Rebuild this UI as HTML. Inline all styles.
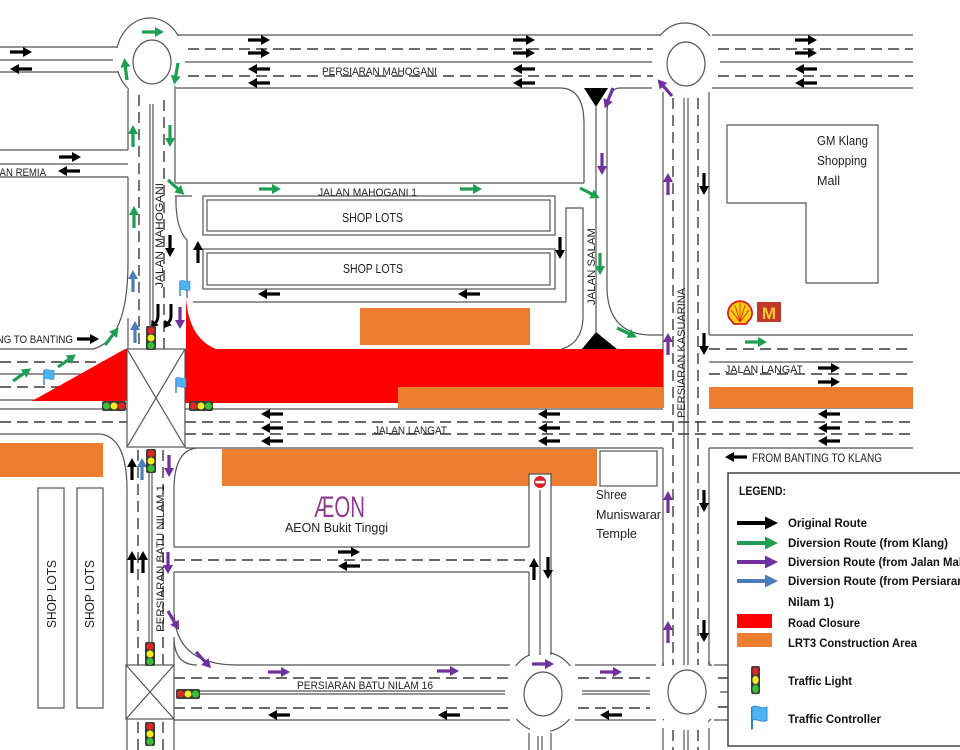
<!DOCTYPE html>
<html><head><meta charset="utf-8"><style>
html,body{margin:0;padding:0;background:#fff;}
svg{display:block;}
text{font-family:"Liberation Sans",sans-serif;}
</style></head><body>
<svg width="960" height="750" viewBox="0 0 960 750" xmlns="http://www.w3.org/2000/svg" xmlns:xlink="http://www.w3.org/1999/xlink">
<defs>
<path id="a" d="M0,-1.6H13V-5L22,0L13,5V1.6H0Z"/>
<path id="A" d="M0,-2H28V-6.5L41,0L28,6.5V2H0Z"/>
<g id="lv"><rect x="0" y="0" width="10" height="24" rx="2" fill="#3c3c3c"/><circle cx="5" cy="4.5" r="3.5" fill="#e52420"/><circle cx="5" cy="12" r="3.5" fill="#f4ec1c"/><circle cx="5" cy="19.5" r="3.5" fill="#34c432"/></g>
<g id="lhr"><rect x="0" y="0" width="24" height="10" rx="2" fill="#3c3c3c"/><circle cx="4.5" cy="5" r="3.5" fill="#e52420"/><circle cx="12" cy="5" r="3.5" fill="#f4ec1c"/><circle cx="19.5" cy="5" r="3.5" fill="#34c432"/></g>
<g id="lhg"><rect x="0" y="0" width="24" height="10" rx="2" fill="#3c3c3c"/><circle cx="4.5" cy="5" r="3.5" fill="#34c432"/><circle cx="12" cy="5" r="3.5" fill="#f4ec1c"/><circle cx="19.5" cy="5" r="3.5" fill="#e52420"/></g>
<g id="fl"><path d="M0,0V15" stroke="#2e86c9" stroke-width="1.4" fill="none"/><path d="M0,0C3,-2 6,2 10,0V9C6,11 3,7 0,9Z" fill="#4db3f2" stroke="#2e86c9" stroke-width="0.6"/></g>
</defs>

<rect width="960" height="750" fill="#fff"/>

<!-- roundabout outers -->
<g fill="#fff" stroke="#555" stroke-width="1.2">
<ellipse cx="150" cy="58" rx="34" ry="40"/>
<ellipse cx="685" cy="60" rx="33" ry="37"/>
<ellipse cx="543" cy="692" rx="36" ry="40"/>
<ellipse cx="687" cy="692" rx="34" ry="38"/>
</g>
<g fill="#fff">
<rect x="110" y="48" width="10" height="23"/>
<rect x="173.5" y="36" width="18" height="51"/>
<rect x="129" y="86" width="45" height="14"/>
<rect x="646" y="36" width="19" height="51"/>
<rect x="706" y="36" width="19" height="51"/>
<rect x="664" y="87" width="44" height="14"/>
<rect x="505" y="666" width="12" height="53"/>
<rect x="569" y="666" width="12" height="53"/>
<rect x="530" y="648" width="20" height="10"/>
<rect x="530" y="727" width="20" height="12"/>
<rect x="651" y="666" width="14" height="53"/>
<rect x="709" y="666" width="14" height="53"/>
<rect x="664" y="650" width="44" height="16"/>
<rect x="664" y="718" width="44" height="20"/>
</g>
<g fill="none" stroke="#555" stroke-width="1.2">
<ellipse cx="152" cy="62" rx="19" ry="22"/>
<ellipse cx="686" cy="64" rx="19" ry="22"/>
<ellipse cx="543" cy="694" rx="19" ry="22"/>
<ellipse cx="687" cy="692" rx="19" ry="22"/>
</g>

<!-- solid road lines -->
<g fill="none" stroke="#555" stroke-width="1.2">
<path d="M0,47H117M0,60H113M0,72H118"/>
<path d="M178,35H660M185,62H652M176,88H560Q584,88 584,124V183"/>
<path d="M620,88Q607,88 607,115V290Q609,334 650,335H663M620,88H652"/>
<path d="M596,107V332"/>
<path d="M566,302V208H583V318Q582,343 562,349"/>
<path d="M712,35H913M720,62H913M712,88H913"/>
<path d="M128,90V150M128,177V262Q128,340 93,349H0M128,318V349"/>
<path d="M150,104V349M153,104V349M175,86V183M175,183H584"/>
<path d="M175,196H192M176,196V205Q177,230 187,240V298"/>
<path d="M193,302H566"/>
<path d="M0,150H128M0,164H128M0,177H128"/>
<path d="M0,374H127M0,400H127M0,409H127M0,434H100Q127,437 127,490V665"/>
<path d="M185,409H663M185,448H663"/>
<path d="M663,92V408M663,448V666M684,98V665M688,98V665M709,92V335M709,448V666"/>
<path d="M709,335H913M709,362H913M709,408H913M709,448H913"/>
<path d="M149,458V643M152,458V643M197,448Q174,450 174,490V547M174,572V610Q174,665 237,665H510M174,637V665M174,637Q174,665 197,665"/>
<path d="M127,719V750M174,719V750"/>
<path d="M174,547H529M174,572H529"/>
<path d="M529,474V547M529,572V656M540,490V655M551,474V655"/>
<path d="M174,720H510M180,691H505M180,694H505"/>
<path d="M575,665H656M575,720H656M582,691H650M582,694H650"/>
<path d="M529,733V750M538,736V750M542,736V750M551,733V750"/>
<path d="M663,728V750M684,730V750M688,730V750M709,728V750"/>
<path d="M714,665H728M714,720H728M720,692H728"/>
</g>
<!-- dashed road lines -->
<g fill="none" stroke="#3a3a3a" stroke-width="1.4" stroke-dasharray="11 6">
<path d="M188,49H653M188,76H653M718,49H913M718,76H913"/>
<path d="M139,95V349M164,100V349"/>
<path d="M0,362H127M0,387H127M0,422H127"/>
<path d="M185,422H913M185,434H913"/>
<path d="M709,349H913M709,374H913"/>
<path d="M673,98V665M698,98V665M673,730V750M698,730V750"/>
<path d="M138,450V665M163,450V665M138,722V750M163,722V750"/>
<path d="M174,560H529"/>
<path d="M174,678H508M174,708H508M578,678H650M578,708H650"/>
<path d="M718,678H728M718,707H728"/>
</g>

<!-- construction / closure -->
<rect x="360" y="308" width="170" height="37" fill="#ed7d31"/>
<g fill="#ff0000">
<path d="M32,401L125,349H127V401Z"/>
<path d="M186,298C188,325 198,342 216,349H186Z"/>
<rect x="185" y="349" width="478" height="54"/>
</g>
<g fill="#ed7d31">
<rect x="398" y="387" width="265" height="21"/>
<rect x="709" y="387" width="204" height="21"/>
<rect x="0" y="443" width="103" height="34"/>
<rect x="222" y="449" width="375" height="37"/>
</g>
<path d="M529,487V474H551V487" fill="#fff" stroke="#555" stroke-width="1.2"/>
<path d="M540,478V487" stroke="#555" stroke-width="1.2"/>

<!-- triangles -->
<path d="M584,88H608L596,107Z" fill="#000"/>
<path d="M582,349H617L596,332Z" fill="#000"/>

<!-- intersection boxes -->
<g fill="#fff" stroke="#555" stroke-width="1.2">
<rect x="127" y="349" width="58" height="98"/>
<path d="M127,349L185,447M185,349L127,447" fill="none"/>
<rect x="126" y="665" width="48" height="54"/>
<path d="M126,665L174,719M174,665L126,719" fill="none"/>
</g>

<!-- buildings -->
<g fill="none" stroke="#555" stroke-width="1.2">
<rect x="203" y="196" width="352" height="39"/>
<rect x="207" y="200" width="343" height="31"/>
<rect x="203" y="249" width="352" height="40"/>
<rect x="207" y="253" width="343" height="32"/>
<rect x="38" y="488" width="26" height="220"/>
<rect x="77" y="488" width="26" height="220"/>
<path d="M727,125H878V283H806V203H727Z"/>
<rect x="600" y="451" width="57" height="35" fill="#fff"/>
</g>

<!-- no entry sign -->
<circle cx="540" cy="482" r="6.5" fill="#d8232a" stroke="#fff" stroke-width="1"/>
<rect x="535.5" y="480.8" width="9" height="2.6" fill="#fff"/>

<!-- Shell & McD -->
<path d="M729,318A12,12 0 1 1 751,318L746,324H734Z" fill="#fcd10a" stroke="#dd1d21" stroke-width="1.8"/>
<path d="M740,322L731,310M740,322L735,305M740,322L740,303M740,322L745,305M740,322L749,310" stroke="#dd1d21" stroke-width="0.8"/>
<rect x="757" y="302" width="24" height="20" fill="#c0392b"/>
<text x="769" y="319" font-size="17" font-weight="bold" fill="#ffc72c" text-anchor="middle">M</text>

<!-- labels -->
<g font-size="11" fill="#222">
<text x="322" y="75" textLength="115" lengthAdjust="spacingAndGlyphs">PERSIARAN MAHOGANI</text>
<text x="318" y="196" textLength="99" lengthAdjust="spacingAndGlyphs">JALAN MAHOGANI 1</text>
<text x="46" y="176" text-anchor="end" textLength="63" lengthAdjust="spacingAndGlyphs">JALAN REMIA</text>
<text x="73" y="343" text-anchor="end" textLength="126" lengthAdjust="spacingAndGlyphs">FROM KLANG TO BANTING</text>
<text x="725" y="373" textLength="78" lengthAdjust="spacingAndGlyphs">JALAN LANGAT</text>
<text x="374" y="434" textLength="73" lengthAdjust="spacingAndGlyphs">JALAN LANGAT</text>
<text transform="translate(163,288) rotate(-90)" textLength="105" lengthAdjust="spacingAndGlyphs">JALAN MAHOGANI</text>
<text transform="translate(595,305) rotate(-90)" textLength="77" lengthAdjust="spacingAndGlyphs">JALAN SALAM</text>
<text transform="translate(685,418) rotate(-90)" textLength="130" lengthAdjust="spacingAndGlyphs">PERSIARAN KASUARINA</text>
<text transform="translate(164,632) rotate(-90)" textLength="147" lengthAdjust="spacingAndGlyphs">PERSIARAN BATU NILAM 1</text>
<text x="297" y="689" textLength="136" lengthAdjust="spacingAndGlyphs">PERSIARAN BATU NILAM 16</text>
</g>
<text x="752" y="462" font-size="12" fill="#222" textLength="130" lengthAdjust="spacingAndGlyphs">FROM BANTING TO KLANG</text>
<g font-size="12.5" fill="#222">
<text x="342" y="222" textLength="61" lengthAdjust="spacingAndGlyphs">SHOP LOTS</text>
<text x="343" y="273" textLength="60" lengthAdjust="spacingAndGlyphs">SHOP LOTS</text>
<text transform="translate(56,628) rotate(-90)" textLength="68" lengthAdjust="spacingAndGlyphs">SHOP LOTS</text>
<text transform="translate(94,628) rotate(-90)" textLength="68" lengthAdjust="spacingAndGlyphs">SHOP LOTS</text>
</g>
<g font-size="13" fill="#222">
<text x="817" y="145" textLength="51" lengthAdjust="spacingAndGlyphs">GM Klang</text>
<text x="817" y="165" textLength="50" lengthAdjust="spacingAndGlyphs">Shopping</text>
<text x="817" y="185" textLength="23" lengthAdjust="spacingAndGlyphs">Mall</text>
<text x="596" y="499" textLength="31" lengthAdjust="spacingAndGlyphs">Shree</text>
<text x="596" y="519" textLength="65" lengthAdjust="spacingAndGlyphs">Muniswarar</text>
<text x="596" y="538" textLength="41" lengthAdjust="spacingAndGlyphs">Temple</text>
<text x="285" y="532" textLength="103" lengthAdjust="spacingAndGlyphs">AEON Bukit Tinggi</text>
</g>
<text x="314" y="517" font-size="30" fill="#8e3c91" textLength="51" lengthAdjust="spacingAndGlyphs">ÆON</text>

<!-- black arrows -->
<g fill="#000">
<use xlink:href="#a" transform="translate(10,52)"/>
<use xlink:href="#a" transform="translate(32,69) rotate(180)"/>
<use xlink:href="#a" transform="translate(59,157)"/>
<use xlink:href="#a" transform="translate(80,171) rotate(180)"/>
<use xlink:href="#a" transform="translate(248,40)"/>
<use xlink:href="#a" transform="translate(248,53)"/>
<use xlink:href="#a" transform="translate(270,69) rotate(180)"/>
<use xlink:href="#a" transform="translate(270,83) rotate(180)"/>
<use xlink:href="#a" transform="translate(513,40)"/>
<use xlink:href="#a" transform="translate(513,53)"/>
<use xlink:href="#a" transform="translate(535,69) rotate(180)"/>
<use xlink:href="#a" transform="translate(535,83) rotate(180)"/>
<use xlink:href="#a" transform="translate(795,40)"/>
<use xlink:href="#a" transform="translate(795,53)"/>
<use xlink:href="#a" transform="translate(817,69) rotate(180)"/>
<use xlink:href="#a" transform="translate(817,83) rotate(180)"/>
<use xlink:href="#a" transform="translate(170,235) rotate(90)"/>
<use xlink:href="#a" transform="translate(198,263) rotate(-90)"/>
<use xlink:href="#a" transform="translate(280,294) rotate(180)"/>
<use xlink:href="#a" transform="translate(480,294) rotate(180)"/>
<use xlink:href="#a" transform="translate(560,237) rotate(90)"/>
<use xlink:href="#a" transform="translate(704,173) rotate(90)"/>
<use xlink:href="#a" transform="translate(704,333) rotate(90)"/>
<use xlink:href="#a" transform="translate(704,490) rotate(90)"/>
<use xlink:href="#a" transform="translate(704,620) rotate(90)"/>
<use xlink:href="#a" transform="translate(818,368)"/>
<use xlink:href="#a" transform="translate(818,382)"/>
<use xlink:href="#a" transform="translate(283,414) rotate(180)"/>
<use xlink:href="#a" transform="translate(283,428) rotate(180)"/>
<use xlink:href="#a" transform="translate(283,441) rotate(180)"/>
<use xlink:href="#a" transform="translate(560,414) rotate(180)"/>
<use xlink:href="#a" transform="translate(560,428) rotate(180)"/>
<use xlink:href="#a" transform="translate(560,441) rotate(180)"/>
<use xlink:href="#a" transform="translate(840,414) rotate(180)"/>
<use xlink:href="#a" transform="translate(840,428) rotate(180)"/>
<use xlink:href="#a" transform="translate(840,441) rotate(180)"/>
<use xlink:href="#a" transform="translate(747,457) rotate(180)"/>
<use xlink:href="#a" transform="translate(77,339)"/>
<use xlink:href="#a" transform="translate(132,480) rotate(-90)"/>
<use xlink:href="#a" transform="translate(132,573) rotate(-90)"/>
<use xlink:href="#a" transform="translate(143,573) rotate(-90)"/>
<use xlink:href="#a" transform="translate(338,552)"/>
<use xlink:href="#a" transform="translate(360,566) rotate(180)"/>
<use xlink:href="#a" transform="translate(534,580) rotate(-90)"/>
<use xlink:href="#a" transform="translate(548,557) rotate(90)"/>
<use xlink:href="#a" transform="translate(290,715) rotate(180)"/>
<use xlink:href="#a" transform="translate(460,715) rotate(180)"/>
<use xlink:href="#a" transform="translate(622,715) rotate(180)"/>
<path d="M151,328L158.8,325.1L151.6,319.7Z"/>
<path d="M164,328L171.8,325.1L164.6,319.7Z"/>
</g>
<path d="M158,304V316Q158,321 154,324M171,304V316Q171,321 167,324" fill="none" stroke="#000" stroke-width="3"/>

<!-- green arrows -->
<g fill="#1e9e52">
<use xlink:href="#a" transform="translate(142,32)"/>
<use xlink:href="#a" transform="translate(127,80) rotate(-97)"/>
<use xlink:href="#a" transform="translate(178,63) rotate(100)"/>
<use xlink:href="#a" transform="translate(133,147) rotate(-90)"/>
<use xlink:href="#a" transform="translate(170,125) rotate(90)"/>
<use xlink:href="#a" transform="translate(134,228) rotate(-90)"/>
<use xlink:href="#a" transform="translate(168,180) rotate(42)"/>
<use xlink:href="#a" transform="translate(259,189)"/>
<use xlink:href="#a" transform="translate(460,189)"/>
<use xlink:href="#a" transform="translate(580,188) rotate(27)"/>
<use xlink:href="#a" transform="translate(600,253) rotate(90)"/>
<use xlink:href="#a" transform="translate(617,328) rotate(25)"/>
<use xlink:href="#a" transform="translate(745,342)"/>
<use xlink:href="#a" transform="translate(13,381) rotate(-35)"/>
<use xlink:href="#a" transform="translate(58,367) rotate(-35)"/>
<use xlink:href="#a" transform="translate(105,345) rotate(-52)"/>
</g>
<!-- purple arrows -->
<g fill="#7030a0">
<use xlink:href="#a" transform="translate(613,88) rotate(112)"/>
<use xlink:href="#a" transform="translate(602,153) rotate(90)"/>
<use xlink:href="#a" transform="translate(672,96) rotate(-131)"/>
<use xlink:href="#a" transform="translate(668,195) rotate(-90)"/>
<use xlink:href="#a" transform="translate(668,355) rotate(-90)"/>
<use xlink:href="#a" transform="translate(668,513) rotate(-90)"/>
<use xlink:href="#a" transform="translate(668,643) rotate(-90)"/>
<use xlink:href="#a" transform="translate(180,307) rotate(90)"/>
<use xlink:href="#a" transform="translate(169,455) rotate(90)"/>
<use xlink:href="#a" transform="translate(168,552) rotate(90)"/>
<use xlink:href="#a" transform="translate(168,611) rotate(60)"/>
<use xlink:href="#a" transform="translate(196,652) rotate(47)"/>
<use xlink:href="#a" transform="translate(268,672)"/>
<use xlink:href="#a" transform="translate(437,671)"/>
<use xlink:href="#a" transform="translate(532,664)"/>
<use xlink:href="#a" transform="translate(600,672)"/>
</g>
<!-- blue arrows -->
<g fill="#4a7ebb">
<use xlink:href="#a" transform="translate(133,292) rotate(-90)"/>
<use xlink:href="#a" transform="translate(135,343) rotate(-90)"/>
<use xlink:href="#a" transform="translate(142,480) rotate(-90)"/>
</g>

<!-- traffic lights -->
<use xlink:href="#lv" x="146" y="326"/>
<use xlink:href="#lv" x="146" y="449"/>
<use xlink:href="#lhg" x="102" y="401"/>
<use xlink:href="#lhr" x="189" y="401"/>
<use xlink:href="#lv" x="145" y="642"/>
<use xlink:href="#lhr" x="176" y="689"/>
<use xlink:href="#lv" x="145" y="722"/>

<!-- flags -->
<use xlink:href="#fl" transform="translate(44,370)"/>
<use xlink:href="#fl" transform="translate(176,378)"/>
<use xlink:href="#fl" transform="translate(180,281)"/>

<!-- legend -->
<rect x="728" y="473" width="240" height="273" fill="#fff" stroke="#444" stroke-width="1.5"/>
<text x="739" y="495" font-size="12" font-weight="bold" fill="#111" textLength="47" lengthAdjust="spacingAndGlyphs">LEGEND:</text>
<use xlink:href="#A" transform="translate(737,523)" fill="#000"/>
<use xlink:href="#A" transform="translate(737,543)" fill="#1e9e52"/>
<use xlink:href="#A" transform="translate(737,562)" fill="#7030a0"/>
<use xlink:href="#A" transform="translate(737,581)" fill="#4a7ebb"/>
<rect x="737" y="614" width="35" height="14" fill="#ff0000"/>
<rect x="737" y="633" width="35" height="14" fill="#ed7d31"/>
<g transform="translate(751,666) scale(0.9,1.17)"><use xlink:href="#lv"/></g>
<g transform="translate(752,707) scale(1.5)"><use xlink:href="#fl"/></g>
<g font-size="12" font-weight="bold" fill="#111">
<text x="788" y="527" textLength="79" lengthAdjust="spacingAndGlyphs">Original Route</text>
<text x="788" y="547" textLength="160" lengthAdjust="spacingAndGlyphs">Diversion Route (from Klang)</text>
<text x="788" y="566" textLength="212" lengthAdjust="spacingAndGlyphs">Diversion Route (from Jalan Mahogani)</text>
<text x="788" y="585" textLength="205" lengthAdjust="spacingAndGlyphs">Diversion Route (from Persiaran Batu</text>
<text x="788" y="606" textLength="46" lengthAdjust="spacingAndGlyphs">Nilam 1)</text>
<text x="788" y="627" textLength="72" lengthAdjust="spacingAndGlyphs">Road Closure</text>
<text x="788" y="647" textLength="129" lengthAdjust="spacingAndGlyphs">LRT3 Construction Area</text>
<text x="788" y="685" textLength="64" lengthAdjust="spacingAndGlyphs">Traffic Light</text>
<text x="788" y="723" textLength="93" lengthAdjust="spacingAndGlyphs">Traffic Controller</text>
</g>
</svg>
</body></html>
